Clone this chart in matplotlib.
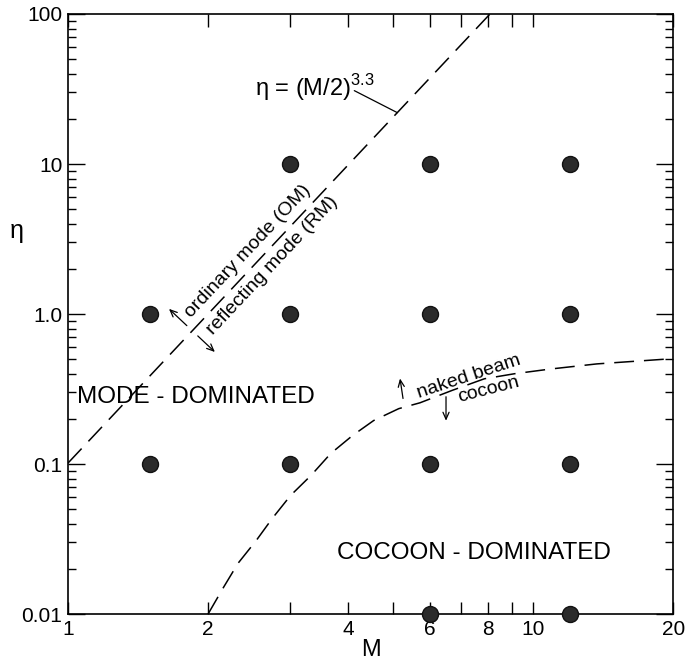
import numpy as np
import matplotlib
matplotlib.use("Agg")
from matplotlib import pyplot as plt
from matplotlib.ticker import FixedLocator, NullFormatter, FixedFormatter

# grid of simulation runs (Mach number M, density ratio eta)
run_M = [1.5, 1.5, 3, 3, 3, 6, 6, 6, 6, 12, 12, 12, 12]
run_eta = [1.0, 0.1, 10, 1.0, 0.1, 10, 1.0, 0.1, 0.01, 10, 1.0, 0.1, 0.01]

# naked beam / cocoon boundary
cocoon_M = [2.0, 2.16, 2.32, 2.54, 2.75, 3.01, 3.33, 3.67, 4.09, 4.54,
            5.14, 5.71, 6.7, 7.85, 9.12, 10.9, 13.7, 19.2, 20.0]
cocoon_eta = [0.01, 0.0151, 0.0218, 0.031, 0.0435, 0.0618, 0.084, 0.1175,
              0.155, 0.195, 0.234, 0.256, 0.31, 0.37, 0.40, 0.43, 0.465,
              0.50, 0.505]

# OM / RM boundary eta = (M/2)^3.3
om_exp = 3.3

x_ticks = [1, 2, 4, 6, 8, 10, 20]
x_minor = [3, 5, 7, 9]
y_ticks = [0.01, 0.1, 1.0, 10, 100]
y_labels = ["0.01", "0.1", "1.0", "10", "100"]

plt.rcParams["font.family"] = ["Liberation Sans", "DejaVu Sans"]
plt.rcParams["mathtext.fontset"] = "custom"
plt.rcParams["mathtext.rm"] = "Liberation Sans"

fig = plt.figure(figsize=(6.87, 6.66), dpi=100)
ax = fig.add_axes([0.099, 0.078, 0.881, 0.901])
ax.set_xscale("log")
ax.set_yscale("log")
ax.set_xlim(1, 20)
ax.set_ylim(0.01, 100)

dash = (0, (13, 6.5))
Mline = np.logspace(0, np.log10(20), 200)
ax.plot(Mline, (Mline / 2) ** om_exp, color="k", lw=1.1, ls=dash)
ax.plot(cocoon_M, cocoon_eta, color="k", lw=1.1, ls=dash)

ax.plot(run_M, run_eta, "o", ms=11.5, color="#2b2b2b", mec="#111111",
        clip_on=False, zorder=5)

# ticks
ax.xaxis.set_major_locator(FixedLocator(x_ticks))
ax.xaxis.set_major_formatter(FixedFormatter([str(t) for t in x_ticks]))
ax.xaxis.set_minor_locator(FixedLocator(x_minor))
ax.xaxis.set_minor_formatter(NullFormatter())
ax.yaxis.set_major_locator(FixedLocator(y_ticks))
ax.yaxis.set_major_formatter(FixedFormatter(y_labels))
ax.tick_params(which="both", direction="in", top=True, right=True,
               labelsize=15, width=1.0, pad=4)
ax.tick_params(axis="x", which="both", length=9)
ax.tick_params(axis="y", which="major", length=12)
ax.tick_params(axis="y", which="minor", length=6)
for s in ax.spines.values():
    s.set_linewidth(1.2)

ax.set_xlabel("M", fontsize=17, labelpad=0)
ax.set_ylabel("η", fontsize=18, rotation=0, ha="center", va="center")
ax.yaxis.set_label_coords(-0.084, 0.638)

fig.canvas.draw()
to_disp = ax.transData.transform
to_data = ax.transData.inverted().transform


def curve_eta(M):
    return 10 ** np.interp(np.log10(M), np.log10(cocoon_M), np.log10(cocoon_eta))


def screen_angle(p, q):
    a, b = to_disp(p), to_disp(q)
    return np.degrees(np.arctan2(b[1] - a[1], b[0] - a[0]))


def shifted(M, eta, ang, along, perp):
    # move a point along / across a line on screen (pixels)
    t = np.radians(ang)
    p = to_disp((M, eta))
    p = p + along * np.array([np.cos(t), np.sin(t)]) \
        + perp * np.array([-np.sin(t), np.cos(t)])
    return tuple(to_data(p))


def arrow(p_from, p_to):
    ax.annotate("", xy=p_to, xytext=p_from,
                arrowprops=dict(arrowstyle="->,head_length=0.5,head_width=0.22",
                                color="k", lw=0.9, shrinkA=0, shrinkB=0))


# OM / RM labels along the line
om = lambda M: (M / 2) ** om_exp
ang = screen_angle((1.0, om(1.0)), (8.0, om(8.0)))
Mt = 2.58
ax.text(*shifted(Mt, om(Mt), ang, -2, 13.5), "ordinary mode (OM)",
        rotation=ang, fontsize=14, ha="center", va="center",
        rotation_mode="anchor")
ax.text(*shifted(Mt, om(Mt), ang, 4, -13.5), "reflecting mode (RM)",
        rotation=ang, fontsize=14, ha="center", va="center",
        rotation_mode="anchor")
Ma = 1.85
arrow(shifted(Ma, om(Ma), ang, 0, 7.5), shifted(Ma, om(Ma), ang, 0, 32))
arrow(shifted(Ma, om(Ma), ang, 0, -7.5), shifted(Ma, om(Ma), ang, 0, -31))

# formula label with leader to the line
eta_lead = 22
Ml = 2 * eta_lead ** (1 / om_exp)
lead_start = shifted(Ml, eta_lead, 0, -43, 22)
ax.annotate("", xy=(Ml, eta_lead), xytext=lead_start,
            arrowprops=dict(arrowstyle="-", color="k", lw=0.9, shrinkA=0,
                            shrinkB=0))
ax.text(*shifted(*lead_start, 0, 20, -5), "η = (M/2)$^{3.3}$", fontsize=17,
        ha="right", va="baseline")

# naked beam / cocoon labels
Mn = 7.35
angn = screen_angle((Mn / 1.1, curve_eta(Mn / 1.1)), (Mn * 1.1, curve_eta(Mn * 1.1)))
ax.text(*shifted(Mn, curve_eta(Mn), angn, 0, 3), "naked beam", rotation=angn,
        fontsize=14, ha="center", va="baseline", rotation_mode="anchor")
Mc = shifted(Mn, curve_eta(Mn), angn, 15, 0)[0]
angc = screen_angle((Mc / 1.1, curve_eta(Mc / 1.1)), (Mc * 1.1, curve_eta(Mc * 1.1)))
ax.text(*shifted(Mc, curve_eta(Mc), angc, 0, -3), "cocoon", rotation=angc,
        fontsize=14, ha="center", va="top", rotation_mode="anchor")
Mu = shifted(Mn, curve_eta(Mn), 0, -68, 0)[0]
pu = to_disp((Mu, curve_eta(Mu)))
arrow(tuple(to_data(pu + np.array([0, 9]))), tuple(to_data(pu + np.array([-3, 29]))))
Md = shifted(Mn, curve_eta(Mn), 0, -25, 0)[0]
pd = to_disp((Md, curve_eta(Md)))
arrow(tuple(to_data(pd + np.array([0, -4]))), tuple(to_data(pd + np.array([0, -28]))))

ax.text(0.015, 0.362, "MODE - DOMINATED", transform=ax.transAxes,
        fontsize=17.5, ha="left", va="center")
ax.text(0.445, 0.102, "COCOON - DOMINATED", transform=ax.transAxes,
        fontsize=17.5, ha="left", va="center")

fig.savefig("out.png", dpi=100)
